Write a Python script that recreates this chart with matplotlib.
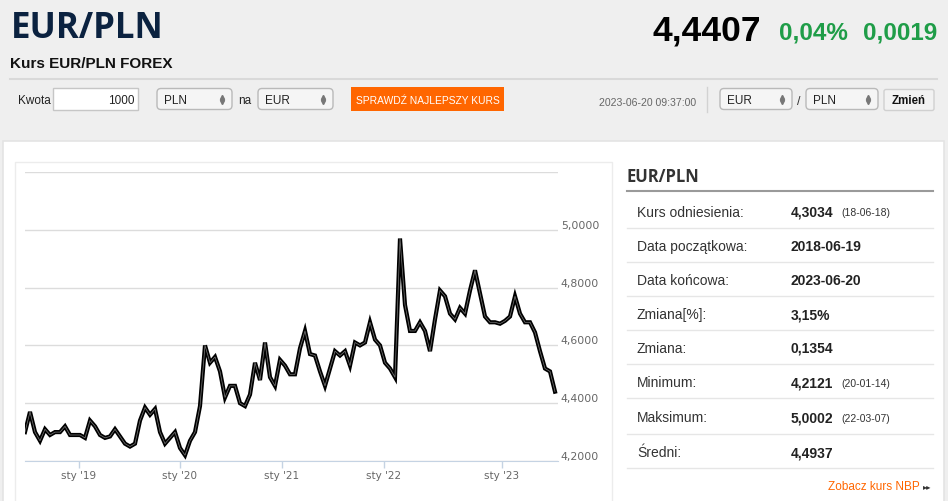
import matplotlib
matplotlib.use("Agg")
from matplotlib import pyplot as plt
from matplotlib.patches import Rectangle, FancyBboxPatch
from matplotlib.ticker import FuncFormatter

# kurs EUR/PLN (co ~2 tygodnie, od 2018-06-19 do 2023-06-20)
kurs = [4.30, 4.37, 4.30, 4.27, 4.31, 4.29, 4.30, 4.30, 4.32, 4.29,
        4.29, 4.29, 4.28, 4.34, 4.32, 4.29, 4.28, 4.285, 4.31, 4.285,
        4.26, 4.25, 4.26, 4.34, 4.385, 4.36, 4.38, 4.30, 4.26, 4.28,
        4.30, 4.245, 4.22, 4.27, 4.30, 4.39, 4.60, 4.54, 4.56, 4.51,
        4.42, 4.46, 4.46, 4.40, 4.39, 4.43, 4.54, 4.48, 4.61, 4.49,
        4.46, 4.55, 4.53, 4.50, 4.50, 4.59, 4.65, 4.57, 4.565, 4.51,
        4.46, 4.52, 4.58, 4.565, 4.58, 4.53, 4.61, 4.60, 4.61, 4.68,
        4.62, 4.60, 4.54, 4.52, 4.49, 4.97, 4.74, 4.65, 4.65, 4.68,
        4.65, 4.58, 4.69, 4.79, 4.77, 4.71, 4.69, 4.73, 4.71, 4.79,
        4.86, 4.78, 4.70, 4.68, 4.68, 4.675, 4.685, 4.70, 4.77, 4.71,
        4.68, 4.68, 4.645, 4.58, 4.52, 4.51, 4.44]

x_ticks = [10.8, 31.0, 51.4, 71.8, 95.4]
x_labels = ["sty '19", "sty '20", "sty '21", "sty '22", "sty '23"]
y_ticks = [4.2, 4.4, 4.6, 4.8, 5.0, 5.2]

stat_labels = ["Kurs odniesienia:", "Data początkowa:", "Data końcowa:", "Zmiana[%]:",
               "Zmiana:", "Minimum:", "Maksimum:", "Średni:"]
stat_values = ["4,3034", "2018-06-19", "2023-06-20", "3,15%", "0,1354", "4,2121", "5,0002", "4,4937"]
stat_dates = ["(18-06-18)", "", "", "", "", "(20-01-14)", "(22-03-07)", ""]

kurs_akt = "4,4407"
zmiana_proc = "0,04%"
zmiana_abs = "0,0019"

ARIAL = "Liberation Sans"

fig = plt.figure(figsize=(9.48, 5.02), dpi=100)
fig.patch.set_facecolor("#efefef")

# tlo strony w pikselach
bg = fig.add_axes([0, 0, 1, 1])
bg.set_xlim(0, 948)
bg.set_ylim(502, 0)
bg.axis("off")

bg.text(11, 37.7, "EUR/PLN", fontsize=25, family="Open Sans", weight="bold",
        color="#0b2240", va="baseline")
bg.text(10, 68, "Kurs EUR/PLN FOREX", fontsize=11, family=ARIAL, weight="bold",
        color="#111", va="baseline")
bg.text(761, 40, kurs_akt, fontsize=25.5, family=ARIAL, weight="bold", color="#000",
        va="baseline", ha="right")
bg.text(779, 39.3, zmiana_proc, fontsize=17.5, family=ARIAL, weight="bold", color="#1f9d48",
        va="baseline")
bg.text(937, 39.3, zmiana_abs, fontsize=17.5, family=ARIAL, weight="bold", color="#1f9d48",
        va="baseline", ha="right")
bg.plot([10, 937], [80, 80], color="#d9d9d9", lw=1.5)

# formularz
bg.text(18, 104.5, "Kwota", fontsize=8.5, family=ARIAL, color="#222", va="baseline")
bg.add_patch(Rectangle((53, 89), 85, 22, facecolor="white", edgecolor="#c6c6c6", lw=1))
bg.text(135, 104.5, "1000", fontsize=8.5, family=ARIAL, color="#222", va="baseline", ha="right")


def select(x0, w, txt):
    bg.add_patch(FancyBboxPatch((x0, 89.5), w, 21, boxstyle="round,pad=0,rounding_size=4",
                                facecolor="#f5f5f5", edgecolor="#b9b9b9", lw=1))
    bg.text(x0 + 7, 104, txt, fontsize=8.5, family=ARIAL, color="#222", va="baseline")
    bg.plot([x0 + w - 10], [97.5], marker="^", ms=3, color="#777", ls="none")
    bg.plot([x0 + w - 10], [103], marker="v", ms=3, color="#777", ls="none")


select(157, 75, "PLN")
bg.text(238, 104.5, "na", fontsize=8.5, family=ARIAL, color="#222", va="baseline")
select(258, 75, "EUR")
bg.add_patch(Rectangle((351, 88), 153, 24, facecolor="#ff6600", edgecolor="none"))
bg.text(427.5, 100.5, "SPRAWDŹ NAJLEPSZY KURS", fontsize=7.4, family=ARIAL, color="white",
        va="center", ha="center")
bg.text(599, 105.5, "2023-06-20 09:37:00", fontsize=7.6, family=ARIAL, color="#666", va="baseline")
bg.plot([707, 707], [88, 113], color="#d2d2d2", lw=1)
select(720, 72, "EUR")
bg.text(797, 105, "/", fontsize=9, family=ARIAL, color="#333", va="baseline")
select(806, 72, "PLN")
bg.add_patch(FancyBboxPatch((884, 90.5), 50, 21, boxstyle="round,pad=0,rounding_size=2",
                            facecolor="#f2f2f2", edgecolor="#d0d0d0", lw=1))
bg.text(909, 101.5, "Zmień", fontsize=8.3, family=ARIAL, weight="bold", color="#111",
        va="center", ha="center")

# biale panele
bg.add_patch(Rectangle((3, 142), 941, 370, facecolor="white", edgecolor="#e4e4e4", lw=1.2))
bg.add_patch(Rectangle((15, 163), 597, 350, facecolor="white", edgecolor="#ececec", lw=1))

# panel statystyk
bg.text(627, 182, "EUR/PLN", fontsize=12, family="Open Sans", weight="bold", color="#333",
        va="baseline")
bg.plot([627, 933], [192.3, 192.3], color="#9a9a9a", lw=1.5)
row_y = [211.7, 246.5, 280.2, 314.2, 347.8, 382.2, 417.5, 452.5]
sep_y = [228.5, 262.7, 296.7, 330.7, 364.5, 399.2, 435.0, 469.2]
for yc, lab, val, dat in zip(row_y, stat_labels, stat_values, stat_dates):
    bg.text(637, yc + 5, lab, fontsize=10, family=ARIAL, color="#333", va="baseline")
    bg.text(790.5, yc + 5, val, fontsize=10, family=ARIAL, weight="bold", color="#222",
            va="baseline")
    if dat:
        bg.text(841, yc + 4.5, dat, fontsize=7.5, family=ARIAL, color="#333", va="baseline")
for ys in sep_y:
    bg.plot([627, 933], [ys, ys], color="#e6e6e6", lw=1)
bg.text(920, 490.5, "Zobacz kurs NBP", fontsize=8.5, family=ARIAL, color="#ff6600",
        va="baseline", ha="right")
bg.text(923, 489.5, "▸▸", fontsize=6, family="DejaVu Sans", color="#333", va="baseline")

# wykres
ax = fig.add_axes([25 / 948, 1 - 462 / 502, (558 - 25) / 948, (462 - 173) / 502])
ax.set_facecolor("none")
idx = list(range(len(kurs)))
ax.plot(idx, kurs, color="black", lw=3.0, solid_joinstyle="miter")
ax.plot(idx, kurs, color="#9a9a9a", lw=0.5, alpha=0.8)
ax.set_xlim(0, (558 - 25) / 5)
ax.set_ylim(4.2, 5.2)
ax.set_yticks(y_ticks)
ax.yaxis.set_major_formatter(FuncFormatter(
    lambda v, p: "" if v > 5.1 else f"{v:.4f}".replace(".", ",")))
ax.yaxis.tick_right()
ax.tick_params(axis="y", length=0, pad=2, labelsize=7.8, labelcolor="#666")
for t in ax.yaxis.get_major_ticks():
    t.label2.set_verticalalignment("bottom")
    t.label2.set_family("DejaVu Sans")
ax.set_xticks(x_ticks)
ax.set_xticklabels(x_labels)
ax.tick_params(axis="x", length=5, width=1, color="#c5d3e3", pad=1.5, labelsize=7.5,
               labelcolor="#666")
ax.grid(axis="y", color="#dcdcdc", lw=1)
ax.set_axisbelow(True)
for s in ["top", "right", "left"]:
    ax.spines[s].set_visible(False)
ax.spines["bottom"].set_color("#c5d3e3")

fig.savefig("out.png", dpi=100, facecolor=fig.get_facecolor())
